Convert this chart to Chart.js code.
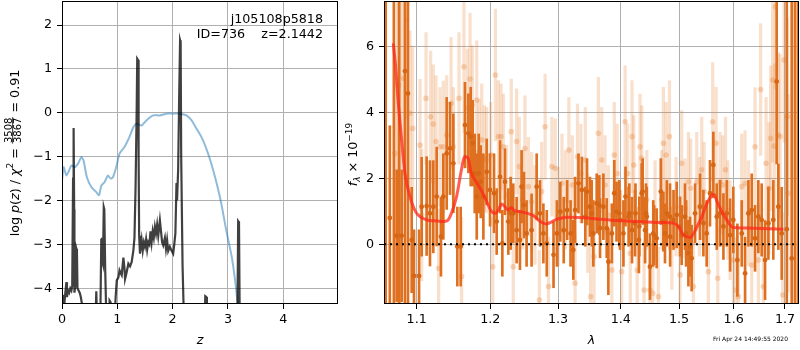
<!DOCTYPE html>
<html><head><meta charset="utf-8">
<script src="https://cdn.jsdelivr.net/npm/chart.js@4.4.0/dist/chart.umd.min.js"></script>
<style>
html,body{margin:0;padding:0;background:#fff;width:800px;height:350px;overflow:hidden;}
#c1{position:absolute;left:0;top:0;}
#c2{position:absolute;left:340px;top:0;}
</style></head><body>
<canvas id="c1" width="340" height="350"></canvas>
<canvas id="c2" width="460" height="350"></canvas>
<script>
// ---------- left panel: p(z) ----------
const zTicks = [0, 1, 2, 3, 4];
const pTicks = [-4, -3, -2, -1, 0, 1, 2];
const zBlue = [0,0.03,0.08,0.14,0.17,0.23,0.29,0.35,0.39,0.45,0.53,0.62,0.67,0.71,0.77,0.80,0.83,0.88,0.92,0.98,1.04,1.13,1.22,1.29,1.35,1.44,1.53,1.65,1.77,1.89,2.01,2.13,2.25,2.34,2.43,2.52,2.61,2.70,2.79,2.88,2.97,3.07,3.13,3.17,3.20];
const pBlue = [-1.54,-1.24,-1.43,-1.28,-1.20,-1.24,-1.16,-1.01,-1.09,-1.47,-1.69,-1.81,-1.88,-1.66,-1.58,-1.50,-1.43,-1.50,-1.47,-1.24,-0.93,-0.78,-0.55,-0.33,-0.25,-0.29,-0.17,-0.06,-0.06,-0.02,-0.02,-0.02,-0.06,-0.17,-0.36,-0.55,-0.82,-1.16,-1.58,-2.07,-2.68,-3.29,-3.82,-4.27,-4.5];
const zDark = [0.00,0.01,0.02,0.04,0.06,0.08,0.09,0.11,0.13,0.15,0.17,0.185,0.20,0.21,0.22,0.225,0.24,0.26,0.27,0.28,0.30,0.32,0.34,0.36,0.38,0.45,0.60,0.62,0.64,0.69,0.71,0.72,0.73,0.74,0.755,0.765,0.78,0.80,0.82,0.85,0.86,0.88,0.90,0.94,0.97,0.99,1.02,1.04,1.06,1.08,1.11,1.13,1.14,1.17,1.20,1.23,1.26,1.29,1.31,1.33,1.35,1.36,1.375,1.385,1.395,1.41,1.44,1.46,1.48,1.50,1.52,1.54,1.56,1.58,1.60,1.62,1.64,1.66,1.68,1.70,1.72,1.74,1.77,1.79,1.81,1.83,1.86,1.88,1.90,1.92,1.95,1.98,2.01,2.03,2.05,2.07,2.08,2.10,2.12,2.135,2.145,2.155,2.18,2.20,2.22,2.58,2.59,2.61,2.62,3.17,3.185,3.20,3.215];
const pDark = [-4.20,-4.30,-4.15,-4.40,-4.10,-3.86,-4.20,-4.05,-4.10,-4.00,-4.05,-3.95,-1.50,-0.35,-2.20,-4.10,-3.95,-3.10,-3.15,-4.00,-4.05,-4.10,-4.20,-4.35,-4.60,-5,-5,-4.07,-5,-5,-2.90,-2.85,-3.40,-3.45,-2.15,-2.20,-3.50,-4.60,-5,-5,-4.28,-4.32,-5,-5,-4.20,-3.82,-3.75,-3.59,-3.65,-3.70,-3.30,-3.55,-3.79,-3.63,-3.44,-3.50,-3.40,-3.14,-2.85,-1.70,0.05,1.23,1.20,-1.00,-2.80,-3.21,-2.90,-3.14,-2.95,-3.05,-2.88,-3.12,-2.95,-3.00,-2.70,-2.95,-2.70,-2.85,-2.60,-2.75,-2.55,-2.80,-2.45,-2.70,-2.95,-3.02,-2.85,-3.10,-2.90,-3.15,-3.05,-3.14,-3.21,-3.00,-2.75,-1.60,-2.00,-1.30,0.50,1.65,1.60,-1.00,-3.50,-4.50,-5,-5,-4.18,-4.20,-5,-5,-2.47,-2.50,-5];

// ---------- right panel: spectrum ----------
const lamTicks = [1.1, 1.2, 1.3, 1.4, 1.5, 1.6, 1.7];
const fTicks = [0, 2, 4, 6];
const darkLam = [1.0604,1.0656,1.0707,1.0743,1.0775,1.0806,1.0848,1.0887,1.0935,1.0965,1.1031,1.1065,1.1130,1.1174,1.1218,1.1263,1.1320,1.1352,1.1397,1.1442,1.1487,1.1541,1.1587,1.1646,1.1693,1.1725,1.1753,1.1781,1.1809,1.1837,1.1865,1.1902,1.1949,1.1996,1.2053,1.2091,1.2139,1.2172,1.2210,1.2258,1.2292,1.2330,1.2379,1.2428,1.2452,1.2487,1.2526,1.2600,1.2676,1.2726,1.2777,1.2828,1.2931,1.2983,1.3035,1.3088,1.3141,1.3194,1.3237,1.3265,1.3318,1.3372,1.3426,1.3453,1.3500,1.3554,1.3608,1.3662,1.3716,1.3770,1.3797,1.3854,1.3894,1.3931,1.3988,1.4045,1.4079,1.4131,1.4188,1.4246,1.4304,1.4352,1.4409,1.4438,1.4492,1.4563,1.4608,1.4679,1.4724,1.4784,1.4842,1.4902,1.4958,1.5046,1.5105,1.5166,1.5224,1.5286,1.5377,1.5437,1.5497,1.5558,1.5620,1.5683,1.5744,1.5807,1.5870,1.5932,1.5993,1.6070,1.6153,1.6217,1.6281,1.6345,1.6409,1.6473,1.6538,1.6604,1.6670,1.6767,1.6834,1.6867,1.6934,1.7036,1.7136,1.7202,1.7265,
  1.3528,1.3650,1.3976,1.4143,1.4238,1.4311,1.4368,1.4424,1.4549,1.4752,1.4840,1.5017,1.5125,1.5195];
const darkFlux = [8,0.8,8,0.26,8,0.26,5.26,4.58,0.13,-0.96,-0.96,1.14,1.16,0.94,1.14,1.45,0.23,1.45,2.76,2.91,2.46,-0.07,-0.07,3.62,3.37,3.27,3.07,2.15,1.45,2.15,1.90,1.45,2.20,1.65,1.55,0.69,2.05,0.03,1.90,0.69,0.94,0.94,0.43,0.13,1.75,1.19,0.33,0.43,1.75,0.94,0.33,0.03,-0.32,0.33,0.99,0.43,1.04,0.33,-0.17,1.04,1.85,1.65,0.84,1.60,1.14,0.33,1.24,0.49,1.14,0.49,-0.53,0.33,1.55,0.99,0.74,0.33,1.45,0.84,0.43,0.94,0.13,1.55,0.43,0.84,-0.68,0.28,0.18,1.60,0.69,0.94,0.23,0.74,0.89,0.28,0.84,-0.27,-0.42,0.94,1.14,0.64,0.33,1.55,2.41,0.84,0.94,0.54,0.94,0.28,0.74,-0.48,0.33,-0.88,0.94,1.04,0.18,0.84,0.74,-0.48,0.64,0.74,4.94,1.14,0.33,0.46,-0.43,8,8,
  0.94,1.19,0.94,0.94,0.64,0.54,1.60,0.94,0.33,0.33,0.84,0.54,0.33,-0.07];
const darkErr = [15,2.8,15,2.0,15,2.0,15,15,1.6,1.4,1.4,1.5,1.5,1.6,1.4,1.5,1.2,1.3,1.7,1.4,1.5,1.2,1.2,1.3,1.2,1.5,1.3,1.2,1.3,1.2,1.1,1.3,1.0,1.1,1.2,1.0,1.1,1.0,1.0,1.0,1.1,0.9,1.0,0.9,1.1,1.0,1.0,1.1,1.0,1.0,0.9,1.0,1.0,1.0,0.9,1.0,0.9,1.0,0.9,1.0,0.9,1.0,0.9,1.0,0.9,1.0,0.9,0.9,1.0,0.9,1.0,0.9,1.0,0.9,0.9,1.0,0.9,0.9,1.0,0.9,1.0,0.9,1.0,0.9,1.0,0.9,0.9,1.0,0.9,1.0,0.9,0.9,1.0,0.9,1.0,1.0,1.0,0.9,1.0,1.0,1.0,1.0,1.0,1.0,1.0,1.0,1.0,1.1,1.0,1.1,1.0,1.1,1.0,1.1,1.0,1.1,1.1,1.2,1.1,1.2,2.5,1.3,1.4,15,15,15,15,
  1.0,0.9,1.0,0.9,1.0,0.9,1.0,0.9,1.0,0.9,1.0,0.9,1.0,0.9];
const lightLam = [1.0721,1.0750,1.0765,1.0790,1.0828,1.0870,1.0913,1.0947,1.1044,1.1065,1.1122,1.1183,1.1218,1.1254,1.1289,1.1307,1.1352,1.1397,1.1456,1.1487,1.1564,1.1600,1.1632,1.1679,1.1716,1.1748,1.1809,1.1841,1.1879,1.1916,1.1949,1.2006,1.2034,1.2072,1.2115,1.2153,1.2186,1.2234,1.2301,1.2330,1.2379,1.2418,1.2467,1.2502,1.2552,1.2600,1.2650,1.2716,1.2751,1.2803,1.2854,1.2906,1.2957,1.3004,1.3061,1.3114,1.3168,1.3221,1.3265,1.3302,1.3356,1.3426,1.3464,1.3511,1.3565,1.3635,1.3689,1.3743,1.3797,1.3854,1.3894,1.3942,1.4016,1.4073,1.4114,1.4159,1.4188,1.4217,1.4275,1.4323,1.4352,1.4392,1.4438,1.4492,1.4540,1.4580,1.4637,1.4696,1.4724,1.4772,1.4830,1.4872,1.4947,1.5017,1.5046,1.5105,1.5166,1.5207,1.5256,1.5316,1.5365,1.5407,1.5450,1.5528,1.5608,1.5670,1.5701,1.5744,1.5794,1.5845,1.5889,1.5932,1.5993,1.6043,1.6089,1.6153,1.6217,1.6281,1.6345,1.6409,1.6473,1.6518,1.6571,1.6624,1.6683,1.6714,1.6754,1.6787,1.6807,1.6867,1.6900,1.6955,1.6982,1.7048,1.7060];
const lightFlux = [2.76,8,4.84,8,5.04,6.81,3.98,3.52,3.01,0.89,4.43,3.87,3.65,3.12,-0.73,2.96,2.96,3.32,4.28,2.96,4.43,-0.98,5.39,4.13,5.02,4.23,4.38,2.81,3.17,2.61,2.56,2.71,-0.68,5.14,3.27,3.27,2.96,1.50,3.42,-0.68,3.12,2.36,1.35,2.91,1.75,1.29,0.89,-1.69,1.60,3.57,-1.28,2.36,2.31,0.84,1.85,1.35,2.86,1.80,-1.18,2.66,2.15,2.56,0.64,-1.59,-0.37,3.37,2.56,1.80,0.89,-0.78,2.71,2.15,-0.83,3.72,2.15,-0.27,3.27,2.41,-0.78,2.96,2.61,-1.39,1.35,-1.39,-1.49,1.04,-1.59,1.35,3.07,2.71,3.27,0.13,1.14,-0.93,2.46,1.09,1.90,1.70,-1.28,1.90,1.14,2.26,1.60,-0.83,3.72,3.07,-1.03,1.90,1.80,2.26,1.04,0.43,-0.48,-1.39,-1.59,1.75,1.85,0.94,-0.63,2.96,-0.48,4.70,-1.28,2.46,1.70,3.22,4.99,2.98,7.21,3.32,3.27,-1.54,5.60,3.87,1.55];
const lightErr = [2.5,15,3,15,3,3,2.5,2.5,2.0,2.0,2.0,2.0,1.8,2.0,1.8,1.8,2.0,1.8,2.0,1.8,2.0,1.8,2.0,1.8,2.0,1.8,1.8,1.6,1.7,1.6,1.6,1.6,1.5,2.0,1.7,1.6,1.6,1.5,1.6,1.5,1.6,1.5,1.5,1.6,1.5,1.5,1.5,1.5,1.5,1.6,1.5,1.5,1.5,1.5,1.5,1.5,1.6,1.5,1.5,1.6,1.5,1.6,1.5,1.5,1.5,1.7,1.6,1.5,1.5,1.5,1.6,1.5,1.5,1.7,1.5,1.5,1.7,1.5,1.5,1.6,1.6,1.5,1.5,1.5,1.5,1.5,1.5,1.5,1.7,1.6,1.7,1.5,1.5,1.5,1.6,1.5,1.5,1.5,1.5,1.5,1.5,1.6,1.5,1.5,1.8,1.7,1.5,1.5,1.5,1.6,1.5,1.5,1.5,1.6,1.6,1.6,1.6,1.6,1.6,1.8,1.7,2.0,1.8,2.0,2.0,2.2,2.5,2.5,2.5,2.5,2.5,2.5,2.5,3,3];
const modelLam = [1.070,1.073,1.076,1.0806,1.0849,1.0913,1.100,1.113,1.126,1.140,1.146,1.153,1.1596,1.164,1.169,1.1734,1.180,1.187,1.194,1.2005,1.207,1.2115,1.216,1.221,1.2255,1.230,1.2347,1.244,1.254,1.2635,1.273,1.281,1.288,1.298,1.313,1.334,1.361,1.394,1.427,1.461,1.491,1.499,1.508,1.518,1.523,1.532,1.541,1.550,1.5596,1.564,1.569,1.578,1.587,1.5966,1.606,1.637,1.670,1.697];
const modelFlux = [6.10,5.39,4.38,3.17,2.15,1.44,0.94,0.74,0.71,0.71,0.94,1.44,2.25,2.66,2.61,2.15,1.90,1.65,1.34,1.04,0.94,1.04,1.22,1.14,1.04,1.12,1.02,0.99,0.94,0.86,0.69,0.62,0.66,0.76,0.82,0.81,0.77,0.72,0.69,0.66,0.64,0.53,0.28,0.21,0.25,0.53,0.84,1.24,1.50,1.50,1.29,0.99,0.74,0.53,0.50,0.49,0.47,0.46];

const FONT = "'DejaVu Sans', sans-serif";
const FS = 12.7;
Chart.defaults.font.family = FONT;
Chart.defaults.font.size = FS;
Chart.defaults.color = '#000';
const minus = v => String(v).replace('-', '\u2212');

function boxPlugin(id){ return { id, afterDraw(chart){
  const {ctx, chartArea:a} = chart;
  ctx.save(); ctx.strokeStyle = '#000'; ctx.lineWidth = 1;
  ctx.strokeRect(Math.round(a.left) + 0.5, Math.round(a.top) + 0.5, Math.round(a.right - a.left) - 1, Math.round(a.bottom - a.top) - 1);
  ctx.restore();
}};}
// remove the label-overflow padding Chart.js reserves, so the plot box matches the reference
function fixW(w){ return s => { s.width = w; s.paddingTop = 0; s.paddingBottom = 0; s.paddingLeft = 0; s.paddingRight = 0; }; }
function fixH(h){ return s => { s.height = h; s.paddingTop = 0; s.paddingBottom = 0; s.paddingLeft = 0; s.paddingRight = 0; }; }

function richText(ctx, cx, cy, segs, base){
  ctx.save();
  ctx.translate(cx, cy); ctx.rotate(-Math.PI / 2);
  ctx.fillStyle = '#000'; ctx.textBaseline = 'alphabetic'; ctx.textAlign = 'left';
  const widths = segs.map(s => {
    ctx.font = s.font;
    if (s.frac) return Math.max(ctx.measureText(s.frac[0]).width, ctx.measureText(s.frac[1]).width) + 2;
    return ctx.measureText(s.t).width;
  });
  let x = -widths.reduce((a, b) => a + b, 0) / 2;
  segs.forEach((s, i) => {
    ctx.font = s.font;
    if (s.frac) {
      const W = widths[i];
      const wn = ctx.measureText(s.frac[0]).width, wd = ctx.measureText(s.frac[1]).width;
      ctx.fillText(s.frac[0], x + (W - wn) / 2, base - 7);
      ctx.fillText(s.frac[1], x + (W - wd) / 2, base + 2.7);
      ctx.fillRect(x + 0.5, base - 6.2, W - 1, 0.8);
    } else {
      ctx.fillText(s.t, x, base + (s.dy || 0));
    }
    x += widths[i];
  });
  ctx.restore();
}
const fN = FS + 'px ' + FONT, fI = 'italic ' + FS + 'px ' + FONT, fS = '9px ' + FONT, fSI = 'italic 9px ' + FONT, fF = '10px ' + FONT;

const leftDecor = { id:'leftDecor', afterDraw(chart){
  const ctx = chart.ctx;
  ctx.save();
  ctx.font = fN; ctx.fillStyle = '#000'; ctx.textAlign = 'right'; ctx.textBaseline = 'middle';
  ctx.fillText('j105108p5818', 323, 20);
  ctx.fillText('ID=736    z=2.1442', 323, 34.5);
  ctx.restore();
  richText(ctx, 14, 153, [
    {t:'log ', font:fN}, {t:'p', font:fI}, {t:'(', font:fN}, {t:'z', font:fI}, {t:')', font:fN},
    {t:' / ', font:fN}, {t:'\u03c7', font:fI}, {t:'2', font:fS, dy:-5.5}, {t:' = ', font:fN},
    {frac:['3508','3867'], font:fF}, {t:' = 0.91', font:fN}
  ], 4.5);
}};

const rightDecor = { id:'rightDecor', afterDraw(chart){
  const ctx = chart.ctx;
  richText(ctx, 12.5, 154.5, [
    {t:'f', font:fI}, {t:'\u03bb', font:fSI, dy:3}, {t:' \u00d7 10', font:fN}, {t:'\u221219', font:fS, dy:-5.5}
  ], 4.5);
  ctx.save();
  ctx.font = '6px ' + FONT; ctx.fillStyle = '#000'; ctx.textAlign = 'right'; ctx.textBaseline = 'middle';
  ctx.fillText('Fri Apr 24 14:49:55 2020', 448, 339.5);
  ctx.restore();
}};

const gridOpts = { color:'#b0b0b0', lineWidth:1, tickColor:'#000', tickLength:5, drawTicks:true };

new Chart(document.getElementById('c1'), {
  type: 'line',
  data: { datasets: [
    { data: zDark.map((z, i) => ({x:z, y:pDark[i]})), borderColor:'rgba(0,0,0,0.75)', borderWidth:2.2, pointRadius:0, tension:0, clip:0, order:1 },
    { data: zBlue.map((z, i) => ({x:z, y:pBlue[i]})), borderColor:'rgba(31,119,180,0.5)', borderWidth:2, pointRadius:0, tension:0.2, clip:0, order:2 }
  ]},
  options: {
    responsive:false, animation:false, events:[],
    layout:{ autoPadding:false, padding:{ left:0, right:2, top:1, bottom:0 } },
    plugins:{ legend:{display:false}, tooltip:{enabled:false} },
    scales:{
      x:{ type:'linear', min:0, max:4.99, bounds:'data',
        afterBuildTicks: s => { s.ticks = zTicks.map(v => ({value:v})); },
        afterFit: fixH(46),
        grid: gridOpts, border:{display:false},
        ticks:{ padding:3, maxRotation:0, autoSkip:false, callback: v => minus(v) },
        title:{ display:true, text:'z', font:{style:'italic', size:FS}, padding:{top:0, bottom:2} } },
      y:{ type:'linear', min:-4.358, max:2.547, bounds:'data',
        afterBuildTicks: s => { s.ticks = pTicks.map(v => ({value:v})); },
        afterFit: fixW(62),
        grid: gridOpts, border:{display:false},
        ticks:{ padding:5, callback: v => minus(v) } }
    }
  },
  plugins:[boxPlugin('box1'), leftDecor]
});

const xMinR = 1.0583, xMaxR = 1.7284;
new Chart(document.getElementById('c2'), {
  type: 'scatter',
  data: { datasets: [
    { type:'bar', data: lightLam.map((l, i) => ({x:l, y:[lightFlux[i] - lightErr[i], lightFlux[i] + lightErr[i]]})),
      backgroundColor:'rgba(230,125,45,0.24)', borderWidth:0, barThickness:2.6, grouped:false, clip:0, order:6 },
    { type:'scatter', data: lightLam.map((l, i) => ({x:l, y:lightFlux[i]})),
      pointBackgroundColor:'rgba(230,125,45,0.3)', pointBorderWidth:0, pointRadius:2.8, clip:0, order:5 },
    { type:'bar', data: darkLam.map((l, i) => ({x:l, y:[darkFlux[i] - darkErr[i], darkFlux[i] + darkErr[i]]})),
      backgroundColor:'rgb(222,112,32)', borderWidth:0, barThickness:2, grouped:false, clip:0, order:4 },
    { type:'scatter', data: darkLam.map((l, i) => ({x:l, y:darkFlux[i]})),
      pointBackgroundColor:'rgb(214,102,20)', pointBorderWidth:0, pointRadius:2.4, clip:0, order:3 },
    { type:'line', data: modelLam.map((l, i) => ({x:l, y:modelFlux[i]})),
      borderColor:'rgba(255,40,25,0.75)', borderWidth:3, pointRadius:0, tension:0.3, clip:0, order:2 },
    { type:'line', data: [{x:xMinR, y:0}, {x:xMaxR, y:0}],
      borderColor:'#000', borderWidth:2, borderDash:[2,4], pointRadius:0, clip:0, order:1 }
  ]},
  options: {
    responsive:false, animation:false, events:[],
    layout:{ autoPadding:false, padding:{ left:0, right:1, top:1, bottom:0 } },
    plugins:{ legend:{display:false}, tooltip:{enabled:false} },
    scales:{
      x:{ type:'logarithmic', min:xMinR, max:xMaxR, bounds:'data', offset:false,
        afterBuildTicks: s => { s.ticks = lamTicks.map(v => ({value:v})); },
        afterFit: fixH(46),
        grid: Object.assign({offset:false}, gridOpts), border:{display:false},
        ticks:{ padding:3, maxRotation:0, autoSkip:false, callback: v => Number(v).toFixed(1) },
        title:{ display:true, text:'\u03bb', font:{style:'italic', size:FS}, padding:{top:0, bottom:2} } },
      y:{ type:'linear', min:-1.813, max:7.388, bounds:'data',
        afterBuildTicks: s => { s.ticks = fTicks.map(v => ({value:v})); },
        afterFit: fixW(44),
        grid: gridOpts, border:{display:false},
        ticks:{ padding:5, callback: v => minus(v) } }
    }
  },
  plugins:[boxPlugin('box2'), rightDecor]
});
</script></body></html>
